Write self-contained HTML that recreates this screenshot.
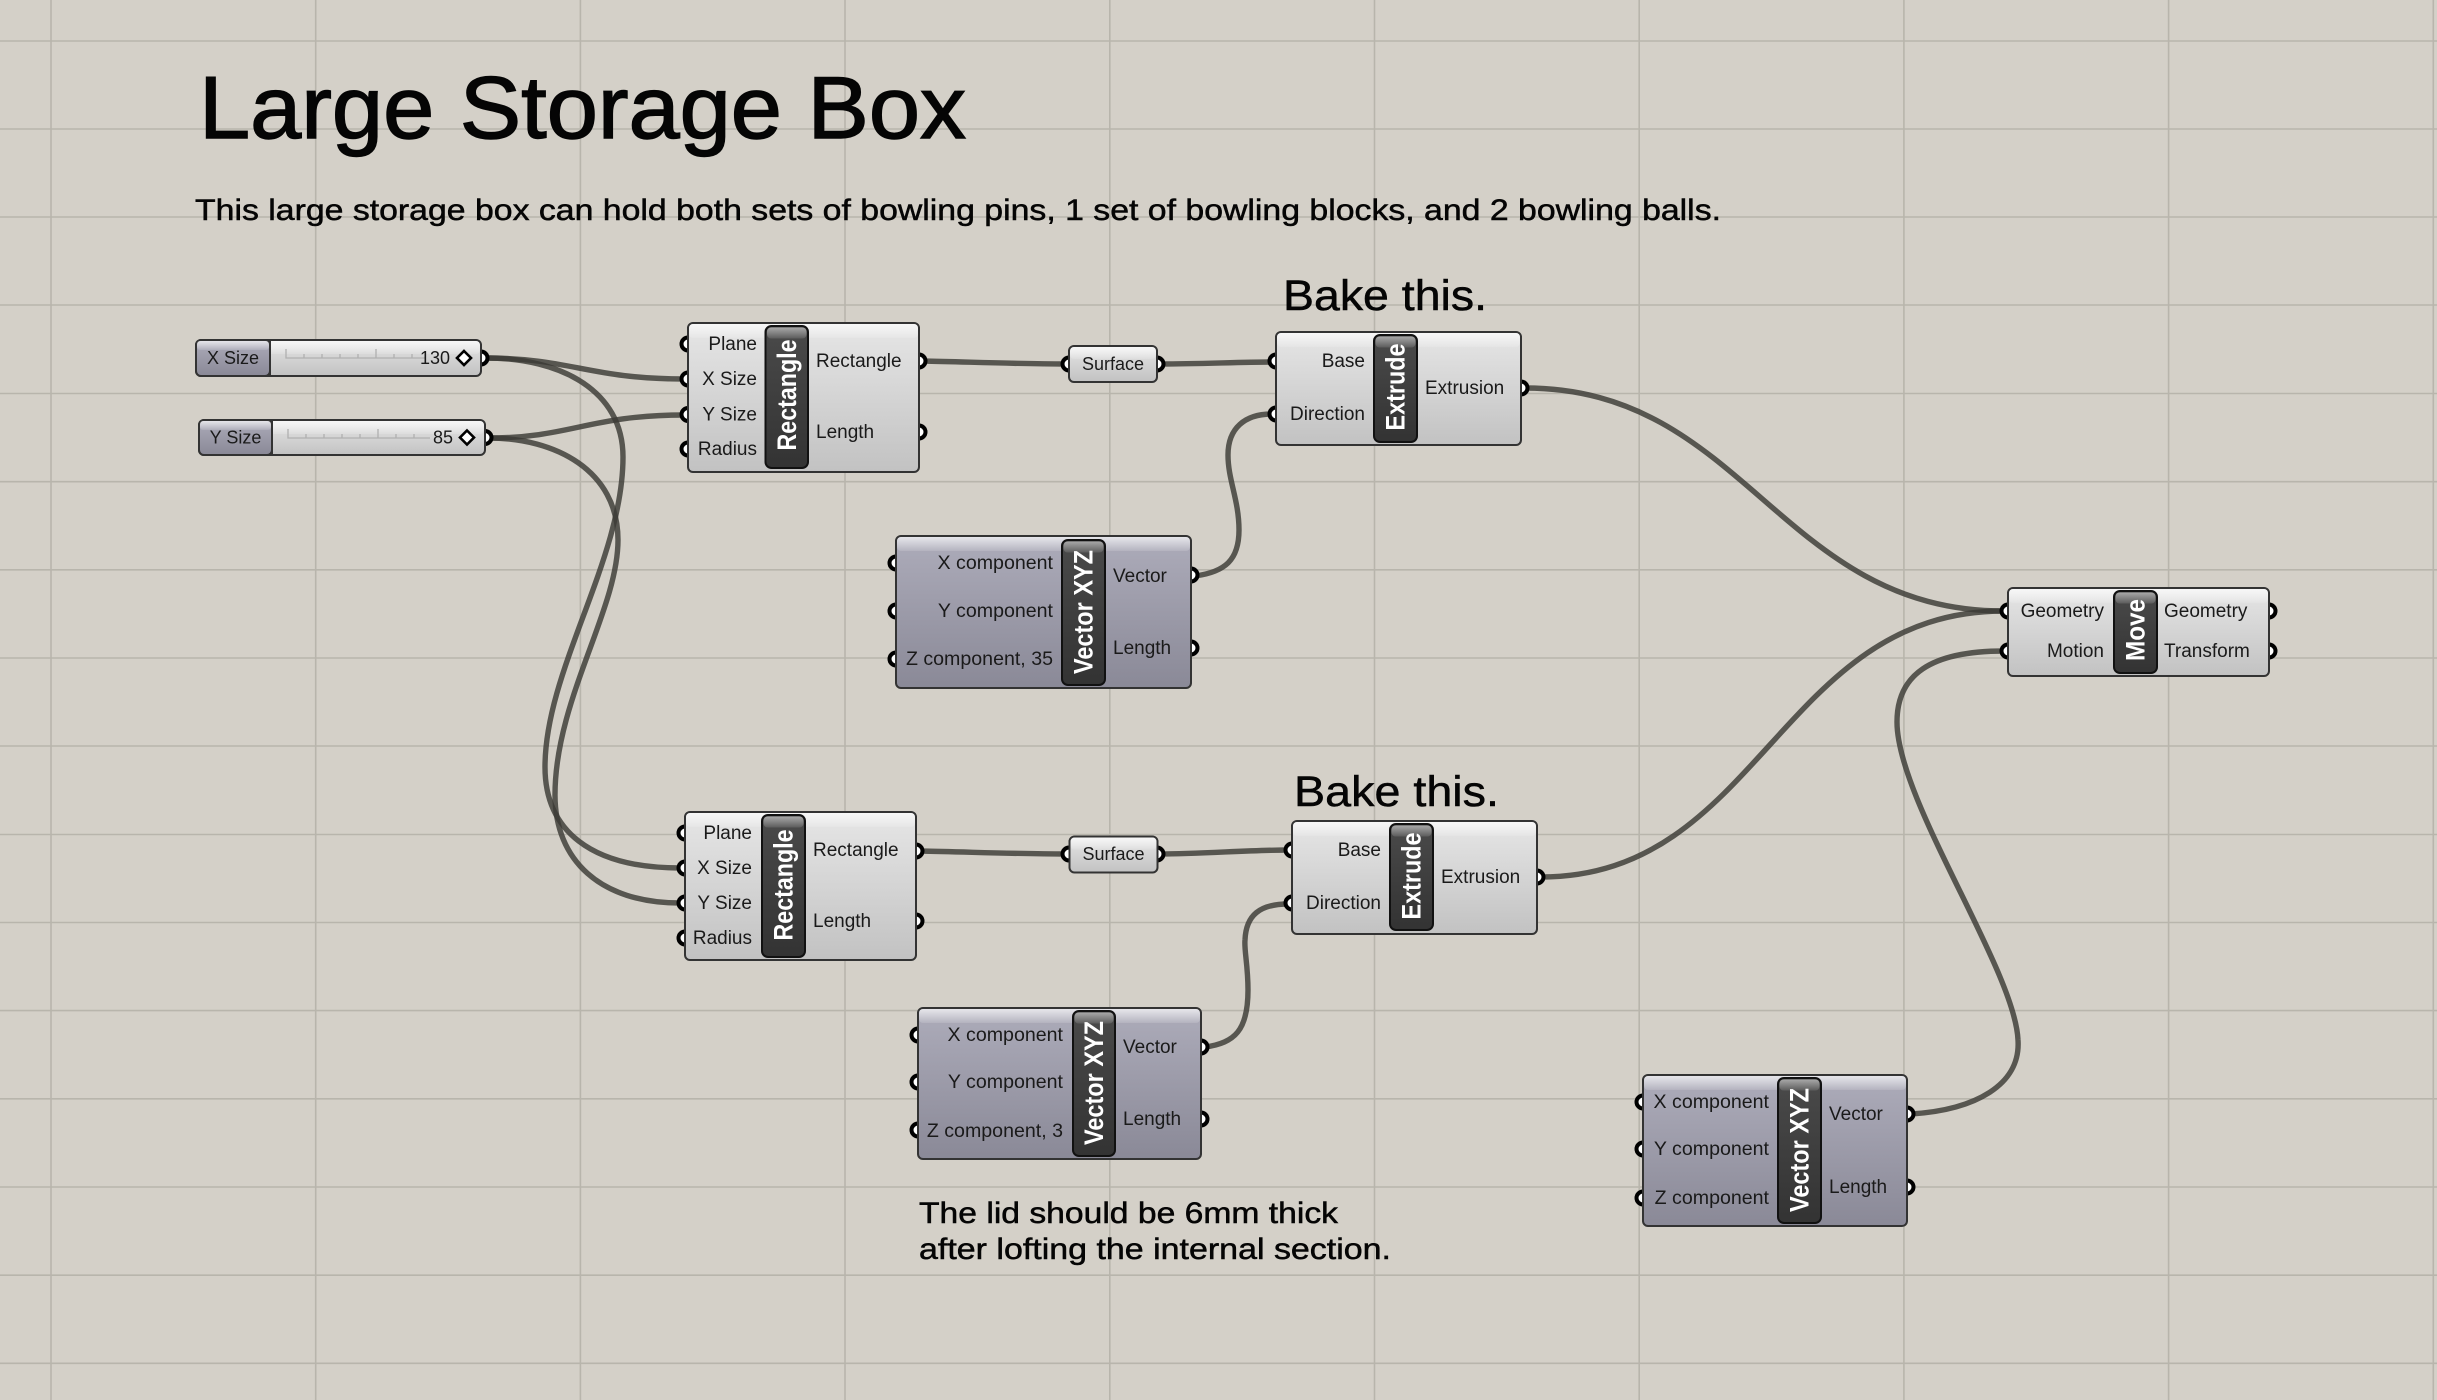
<!DOCTYPE html>
<html><head><meta charset="utf-8"><title>Large Storage Box</title>
<style>
html,body{margin:0;padding:0;background:#d4d0c8}
svg{display:block}
text{font-family:"Liberation Sans",sans-serif;fill:#1a1a1a}
.g{stroke:#b8b5ac;stroke-width:1.6;fill:none}
.wr{fill:none;stroke:#3c3b36;stroke-opacity:.82;stroke-width:5.4;stroke-linecap:round}
.p{fill:#fff;stroke:#000;stroke-width:4}
.nw{fill:url(#gw);stroke:#333;stroke-width:2}
.nv{fill:url(#gv);stroke:#333;stroke-width:2}
.band{fill:url(#gb)}
.blk{fill:url(#gk);stroke:#111;stroke-width:2}
.bb{fill:url(#gt)}
.i{font-size:19px;text-anchor:end}
.q{font-size:19.6px}
.o{font-size:19px;text-anchor:start}
.c{font-size:18px;text-anchor:middle}
.t{font-size:27px;font-weight:bold;fill:#fff;text-anchor:middle;dominant-baseline:central}
.h{fill:#050505;stroke:#050505;stroke-width:.5}
.hh{fill:#050505;stroke:#050505;stroke-width:1.4}
.tk{stroke:#b0b0b0;stroke-width:1.3;fill:none}
</style></head>
<body>
<svg xmlns="http://www.w3.org/2000/svg" width="2437" height="1400" viewBox="0 0 2437 1400">
<defs>
<linearGradient id="gw" x1="0" y1="0" x2="0" y2="1"><stop offset="0" stop-color="#e6e6e6"/><stop offset="1" stop-color="#c2c2c2"/></linearGradient>
<linearGradient id="gv" x1="0" y1="0" x2="0" y2="1"><stop offset="0" stop-color="#adacba"/><stop offset="1" stop-color="#8a8997"/></linearGradient>
<linearGradient id="gb" x1="0" y1="0" x2="0" y2="1"><stop offset="0" stop-color="#fff" stop-opacity=".7"/><stop offset="1" stop-color="#fff" stop-opacity=".12"/></linearGradient>
<linearGradient id="gk" x1="0" y1="0" x2="0" y2="1"><stop offset="0" stop-color="#4a4a4a"/><stop offset="1" stop-color="#333"/></linearGradient>
<linearGradient id="gt" x1="0" y1="0" x2="0" y2="1"><stop offset="0" stop-color="#a8a8a8"/><stop offset="1" stop-color="#5c5c5c"/></linearGradient>
</defs>
<rect width="2437" height="1400" fill="#d4d0c8"/>
<!-- grid -->
<path class="g" d="M51 0V1400M315.7 0V1400M580.4 0V1400M845 0V1400M1109.8 0V1400M1374.5 0V1400M1639.2 0V1400M1903.9 0V1400M2168.6 0V1400M2433.3 0V1400"/>
<path class="g" d="M0 41H2437M0 129H2437M0 217H2437M0 305H2437M0 393.5H2437M0 481.7H2437M0 569.8H2437M0 658H2437M0 746H2437M0 834.5H2437M0 922.5H2437M0 1010.6H2437M0 1098.8H2437M0 1187H2437M0 1275.2H2437M0 1363.3H2437"/>
<!-- headings -->
<text x="199" y="138" font-size="88" class="hh" textLength="767" lengthAdjust="spacingAndGlyphs">Large Storage Box</text>
<text x="195" y="220" font-size="30" class="h" textLength="1526" lengthAdjust="spacingAndGlyphs">This large storage box can hold both sets of bowling pins, 1 set of bowling blocks, and 2 bowling balls.</text>
<text x="1283" y="310" font-size="43" class="h" textLength="204" lengthAdjust="spacingAndGlyphs">Bake this.</text>
<text x="1294" y="806" font-size="43" class="h" textLength="205" lengthAdjust="spacingAndGlyphs">Bake this.</text>
<text x="919" y="1223" font-size="30" class="h" textLength="419" lengthAdjust="spacingAndGlyphs">The lid should be 6mm thick</text>
<text x="919" y="1259" font-size="30" class="h" textLength="472" lengthAdjust="spacingAndGlyphs">after lofting the internal section.</text>
<!-- wires -->
<g class="wr">
<path d="M486 358C570 358 590 379 684 379"/>
<path d="M489 438C570 438 590 415 684 415"/>
<path d="M486 358C560 358 623 390 623 457C623 560 545 670 545 767C545 830 590 868 680 868"/>
<path d="M489 438C555 438 618 470 618 540C618 610 555 700 555 795C555 860 600 903 680 903"/>
<path d="M923 361C970 362 1020 364 1065 364"/>
<path d="M1161 364C1200 364 1240 362 1272 362"/>
<path d="M920 851C970 852 1020 854 1065 854"/>
<path d="M1161 854C1200 854 1250 850 1288 850"/>
<path d="M1195 576C1225 572 1239 560 1239 530C1239 500 1228 480 1228 455C1228 428 1245 414 1272 414"/>
<path d="M1205 1047C1235 1043 1248 1030 1248 990C1248 965 1244 950 1245 940C1246 915 1260 904 1288 904"/>
<path d="M1525 388C1745 388 1780 611 2004 611"/>
<path d="M1541 877C1760 877 1780 611 2004 611"/>
<path d="M1911 1114C1975 1110 2021 1085 2018 1040C2015 970 1897 800 1897 722C1897 675 1930 651 2004 651"/>
</g>
<!-- ports -->
<g class="p">
<circle cx="481" cy="358" r="6.5"/><circle cx="485" cy="437.5" r="6.5"/>
<circle cx="688" cy="344" r="6.5"/><circle cx="688" cy="379" r="6.5"/><circle cx="688" cy="414.5" r="6.5"/><circle cx="688" cy="449" r="6.5"/><circle cx="919" cy="361" r="6.5"/><circle cx="919" cy="432" r="6.5"/>
<circle cx="685" cy="833" r="6.5"/><circle cx="685" cy="868" r="6.5"/><circle cx="685" cy="903" r="6.5"/><circle cx="685" cy="938" r="6.5"/><circle cx="916" cy="851" r="6.5"/><circle cx="916" cy="921" r="6.5"/>
<circle cx="1069" cy="364" r="6.5"/><circle cx="1157" cy="364" r="6.5"/><circle cx="1069" cy="854" r="6.5"/><circle cx="1157" cy="854" r="6.5"/>
<circle cx="1276" cy="361" r="6.5"/><circle cx="1276" cy="414" r="6.5"/><circle cx="1521" cy="388" r="6.5"/>
<circle cx="1292" cy="850" r="6.5"/><circle cx="1292" cy="903" r="6.5"/><circle cx="1537" cy="877" r="6.5"/>
<circle cx="896" cy="563" r="6.5"/><circle cx="896" cy="611" r="6.5"/><circle cx="896" cy="659" r="6.5"/><circle cx="1191" cy="575" r="6.5"/><circle cx="1191" cy="648" r="6.5"/>
<circle cx="918" cy="1035" r="6.5"/><circle cx="918" cy="1082" r="6.5"/><circle cx="918" cy="1130" r="6.5"/><circle cx="1201" cy="1047" r="6.5"/><circle cx="1201" cy="1119" r="6.5"/>
<circle cx="1643" cy="1102" r="6.5"/><circle cx="1643" cy="1149" r="6.5"/><circle cx="1643" cy="1198" r="6.5"/><circle cx="1907" cy="1114" r="6.5"/><circle cx="1907" cy="1187" r="6.5"/>
<circle cx="2008" cy="611" r="6.5"/><circle cx="2008" cy="651" r="6.5"/><circle cx="2269" cy="611" r="6.5"/><circle cx="2269" cy="651" r="6.5"/>
</g>
<!-- X slider -->
<rect x="196" y="340" width="285" height="36" rx="5" class="nw"/>
<rect x="197" y="341" width="283" height="13" rx="4" class="band"/>
<rect x="196" y="340" width="74" height="36" rx="5" class="nv"/>
<rect x="197" y="341" width="72" height="9" rx="3" class="band"/>
<path d="M270 340V376" stroke="#333" stroke-width="2"/>
<path class="tk" d="M286 349V358H425M304 354V358M322 354V358M340 354V358M358 354V358M376 349V358M394 354V358M412 354V358"/>
<text x="233" y="364" class="c">X Size</text>
<text x="450" y="364" class="i" style="font-size:18px">130</text>
<path d="M464 351L471 358L464 365L457 358Z" fill="#fff" stroke="#000" stroke-width="2.6"/>
<!-- Y slider -->
<rect x="199" y="420" width="286" height="35" rx="5" class="nw"/>
<rect x="200" y="421" width="284" height="13" rx="4" class="band"/>
<rect x="199" y="420" width="73" height="35" rx="5" class="nv"/>
<rect x="200" y="421" width="71" height="9" rx="3" class="band"/>
<path d="M272 420V455" stroke="#333" stroke-width="2"/>
<path class="tk" d="M288 429V438H430M306 434V438M324 434V438M342 434V438M360 434V438M378 429V438M396 434V438M414 434V438"/>
<text x="235.5" y="443.500" class="c">Y Size</text>
<text x="453" y="443.500" class="i" style="font-size:18px">85</text>
<path d="M467 430.500L474 437.500L467 444.500L460 437.500Z" fill="#fff" stroke="#000" stroke-width="2.6"/>
<!-- Rectangle 1 -->
<rect x="688" y="323" width="231" height="149" rx="5" class="nw"/><rect x="689" y="324" width="229" height="14" rx="4" class="band"/>
<rect x="765.500" y="326" width="42.500" height="142" rx="6" class="blk"/><rect x="767" y="327.500" width="39.500" height="11" rx="4" class="bb"/>
<text class="t" textLength="111" lengthAdjust="spacingAndGlyphs" transform="translate(787 395) rotate(-90)">Rectangle</text>
<text class="i" x="757" y="350">Plane</text><text class="i" x="757" y="385">X Size</text><text class="i" x="757" y="420.500">Y Size</text><text class="i" x="757" y="455">Radius</text>
<text class="o" x="816" y="367">Rectangle</text><text class="o" x="816" y="438">Length</text>
<!-- Rectangle 2 -->
<rect x="685" y="812" width="231" height="148" rx="5" class="nw"/><rect x="686" y="813" width="229" height="14" rx="4" class="band"/>
<rect x="762" y="815" width="43" height="142" rx="6" class="blk"/><rect x="763.500" y="816.500" width="40" height="11" rx="4" class="bb"/>
<text class="t" textLength="111" lengthAdjust="spacingAndGlyphs" transform="translate(783.500 885) rotate(-90)">Rectangle</text>
<text class="i" x="752" y="839">Plane</text><text class="i" x="752" y="874">X Size</text><text class="i" x="752" y="909">Y Size</text><text class="i" x="752" y="944">Radius</text>
<text class="o" x="813" y="856">Rectangle</text><text class="o" x="813" y="927">Length</text>
<!-- Surface 1 -->
<rect x="1069" y="346" width="88" height="36" rx="5" class="nw"/><rect x="1070" y="347" width="86" height="12" rx="4" class="band"/>
<text class="c" x="1113" y="370">Surface</text>
<!-- Surface 2 -->
<rect x="1069.500" y="836.500" width="88" height="36" rx="5" class="nw"/><rect x="1070.500" y="837.500" width="86" height="12" rx="4" class="band"/>
<text class="c" x="1113.500" y="860">Surface</text>
<!-- Extrude 1 -->
<rect x="1276" y="332" width="245" height="113" rx="5" class="nw"/><rect x="1277" y="333" width="243" height="14" rx="4" class="band"/>
<rect x="1374" y="335" width="43" height="107" rx="6" class="blk"/><rect x="1375.500" y="336.500" width="40" height="11" rx="4" class="bb"/>
<text class="t" textLength="87" lengthAdjust="spacingAndGlyphs" transform="translate(1395.500 387) rotate(-90)">Extrude</text>
<text class="i" x="1365" y="367">Base</text><text class="i" x="1365" y="420">Direction</text>
<text class="o" x="1425" y="394">Extrusion</text>
<!-- Extrude 2 -->
<rect x="1292" y="821" width="245" height="113" rx="5" class="nw"/><rect x="1293" y="822" width="243" height="14" rx="4" class="band"/>
<rect x="1390" y="824" width="43" height="106" rx="6" class="blk"/><rect x="1391.500" y="825.500" width="40" height="11" rx="4" class="bb"/>
<text class="t" textLength="87" lengthAdjust="spacingAndGlyphs" transform="translate(1411.500 876) rotate(-90)">Extrude</text>
<text class="i" x="1381" y="856">Base</text><text class="i" x="1381" y="909">Direction</text>
<text class="o" x="1441" y="883">Extrusion</text>
<!-- Vector 1 -->
<rect x="896" y="536" width="295" height="152" rx="5" class="nv"/><rect x="897" y="537" width="293" height="14" rx="4" class="band"/>
<rect x="1062" y="540" width="43" height="145" rx="6" class="blk"/><rect x="1063.500" y="541.500" width="40" height="11" rx="4" class="bb"/>
<text class="t" textLength="124" lengthAdjust="spacingAndGlyphs" transform="translate(1083.500 612) rotate(-90)">Vector XYZ</text>
<text class="i q" x="1053" y="569">X component</text><text class="i q" x="1053" y="617">Y component</text><text class="i q" x="1053" y="665">Z component, 35</text>
<text class="o" x="1113" y="582">Vector</text><text class="o" x="1113" y="654">Length</text>
<!-- Vector 2 -->
<rect x="918" y="1008" width="283" height="151" rx="5" class="nv"/><rect x="919" y="1009" width="281" height="14" rx="4" class="band"/>
<rect x="1073" y="1011" width="42" height="145" rx="6" class="blk"/><rect x="1074.500" y="1012.500" width="39" height="11" rx="4" class="bb"/>
<text class="t" textLength="124" lengthAdjust="spacingAndGlyphs" transform="translate(1094 1083) rotate(-90)">Vector XYZ</text>
<text class="i q" x="1063" y="1041">X component</text><text class="i q" x="1063" y="1088">Y component</text><text class="i q" x="1063" y="1137">Z component, 3</text>
<text class="o" x="1123" y="1053">Vector</text><text class="o" x="1123" y="1125">Length</text>
<!-- Vector 3 -->
<rect x="1643" y="1075" width="264" height="151" rx="5" class="nv"/><rect x="1644" y="1076" width="262" height="14" rx="4" class="band"/>
<rect x="1778" y="1078" width="43" height="145" rx="6" class="blk"/><rect x="1779.500" y="1079.500" width="40" height="11" rx="4" class="bb"/>
<text class="t" textLength="124" lengthAdjust="spacingAndGlyphs" transform="translate(1799.500 1150) rotate(-90)">Vector XYZ</text>
<text class="i q" x="1769" y="1108">X component</text><text class="i q" x="1769" y="1155">Y component</text><text class="i q" x="1769" y="1204">Z component</text>
<text class="o" x="1829" y="1120">Vector</text><text class="o" x="1829" y="1193">Length</text>
<!-- Move -->
<rect x="2008" y="588" width="261" height="88" rx="5" class="nw"/><rect x="2009" y="589" width="259" height="14" rx="4" class="band"/>
<rect x="2114" y="591" width="43" height="82" rx="6" class="blk"/><rect x="2115.500" y="592.500" width="40" height="11" rx="4" class="bb"/>
<text class="t" textLength="62" lengthAdjust="spacingAndGlyphs" transform="translate(2135.500 630) rotate(-90)">Move</text>
<text class="i" x="2104" y="617">Geometry</text><text class="i" x="2104" y="657">Motion</text>
<text class="o" x="2164" y="617">Geometry</text><text class="o" x="2164" y="657">Transform</text>
</svg>
</body></html>
